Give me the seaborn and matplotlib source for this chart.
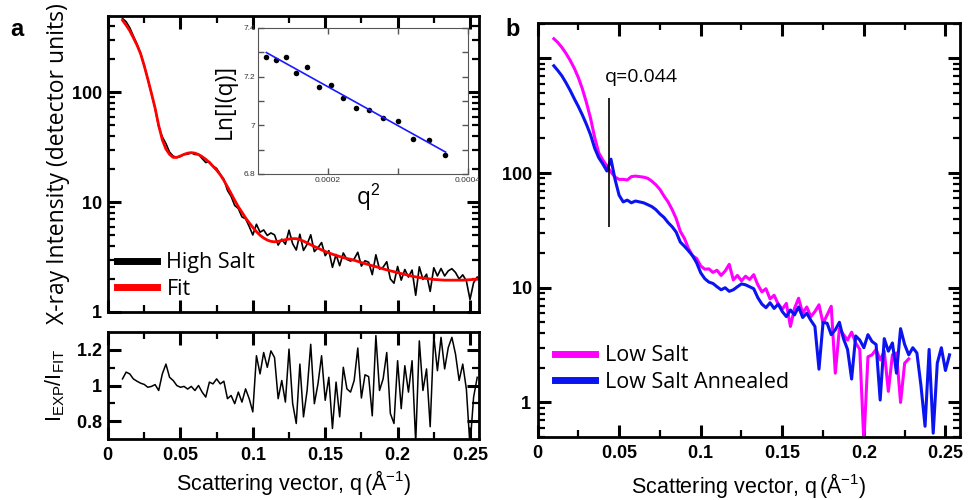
import matplotlib
matplotlib.use('Agg')
import matplotlib.pyplot as plt
import matplotlib.ticker as mticker
import seaborn as sns
import numpy as np

plt.rcParams['font.family'] = ['Liberation Sans', 'DejaVu Sans']
plt.rcParams['mathtext.fontset'] = 'custom'
plt.rcParams['mathtext.rm'] = 'Liberation Sans'
plt.rcParams['mathtext.it'] = 'Liberation Sans'
plt.rcParams['mathtext.bf'] = 'Liberation Sans:bold'

# ---- panel a : high salt scattering curve, fit and residual (q in 1/A) ----
q_a = [0.0100, 0.0125, 0.0150, 0.0175, 0.0200, 0.0225, 0.0250, 0.0275, 0.0300, 0.0325,
       0.0350, 0.0375, 0.0400, 0.0425, 0.0450, 0.0475, 0.0500, 0.0525, 0.0550, 0.0575,
       0.0600, 0.0625, 0.0650, 0.0675, 0.0700, 0.0725, 0.0750, 0.0775, 0.0800, 0.0825,
       0.0850, 0.0875, 0.0900, 0.0925, 0.0950, 0.0975, 0.1000, 0.1025, 0.1050, 0.1075,
       0.1100, 0.1125, 0.1150, 0.1175, 0.1200, 0.1225, 0.1250, 0.1275, 0.1300, 0.1325,
       0.1350, 0.1375, 0.1400, 0.1425, 0.1450, 0.1475, 0.1500, 0.1525, 0.1550, 0.1575,
       0.1600, 0.1625, 0.1650, 0.1675, 0.1700, 0.1725, 0.1750, 0.1775, 0.1800, 0.1825,
       0.1850, 0.1875, 0.1900, 0.1925, 0.1950, 0.1975, 0.2000, 0.2025, 0.2050, 0.2075,
       0.2100, 0.2125, 0.2150, 0.2175, 0.2200, 0.2225, 0.2250, 0.2275, 0.2300, 0.2325,
       0.2350, 0.2375, 0.2400, 0.2425, 0.2450, 0.2475, 0.2500, 0.2525, 0.2550]

high_salt = [472, 441, 389, 327, 276, 228, 176, 131, 97.5, 72.4,
             48.6, 39.4, 34.2, 28.6, 26.3, 25.6, 26.1, 27.2, 27.4, 28.2,
             27.2, 27.2, 25.0, 23.0, 23.4, 21.4, 20.3, 18.0, 16.2, 12.8,
             11.3, 9.34, 8.76, 7.35, 7.06, 6.02, 5.03, 6.30, 5.33, 5.59,
             4.98, 5.25, 5.04, 4.07, 4.61, 4.14, 5.56, 4.19, 3.67, 5.11,
             3.64, 4.14, 5.05, 3.55, 3.85, 4.29, 3.26, 3.62, 2.55, 3.34,
             2.64, 3.45, 3.01, 2.91, 3.04, 3.50, 2.62, 2.93, 2.84, 2.19,
             3.32, 2.46, 2.56, 2.87, 2.00, 1.83, 2.60, 1.95, 2.44, 2.08,
             2.41, 1.42, 2.58, 1.98, 2.21, 1.54, 2.53, 2.13, 2.49, 2.13,
             2.37, 2.48, 2.29, 2.00, 2.18, 1.92, 1.30, 1.85, 2.08]

fit_a = [455, 410, 365, 315, 270, 225, 175, 132, 98, 72,
         50, 37, 30.5, 27.3, 25.6, 25.6, 26.4, 27.3, 28.0, 28.3,
         28.0, 27.2, 26.0, 24.6, 23.0, 21.2, 19.6, 17.8, 15.8, 13.8,
         12.0, 10.4, 9.1, 8.1, 7.2, 6.5, 5.9, 5.4, 5.0, 4.72,
         4.52, 4.40, 4.36, 4.40, 4.48, 4.56, 4.62, 4.66, 4.66, 4.56,
         4.42, 4.26, 4.10, 3.95, 3.82, 3.68, 3.56, 3.46, 3.36, 3.28,
         3.20, 3.13, 3.07, 3.02, 2.96, 2.89, 2.82, 2.76, 2.70, 2.64,
         2.59, 2.53, 2.47, 2.42, 2.37, 2.33, 2.28, 2.24, 2.20, 2.16,
         2.12, 2.09, 2.06, 2.04, 2.02, 2.00, 1.98, 1.97, 1.96, 1.95,
         1.95, 1.95, 1.95, 1.95, 1.95, 1.96, 1.97, 1.98, 1.99]

ratio_a = [1.037, 1.075, 1.065, 1.037, 1.024, 1.013, 1.006, 0.990, 0.995, 1.005,
           0.972, 1.065, 1.120, 1.046, 1.028, 1.000, 0.990, 0.995, 0.980, 0.995,
           0.972, 1.000, 0.963, 0.935, 1.019, 1.009, 1.037, 1.009, 1.024, 0.926,
           0.944, 0.898, 0.963, 0.907, 0.981, 0.926, 0.852, 1.167, 1.065, 1.185,
           1.102, 1.194, 1.157, 0.926, 1.028, 0.907, 1.204, 0.900, 0.787, 1.120,
           0.824, 0.972, 1.231, 0.898, 1.009, 1.167, 0.917, 1.046, 0.759, 1.019,
           0.824, 1.102, 0.981, 0.963, 1.028, 1.210, 0.930, 1.060, 1.050, 0.830,
           1.280, 0.972, 1.037, 1.185, 0.843, 0.787, 1.139, 0.870, 1.111, 0.963,
           1.139, 0.680, 1.250, 0.972, 1.093, 0.769, 1.278, 1.083, 1.270, 1.093,
           1.213, 1.270, 1.176, 1.028, 1.120, 0.980, 0.660, 0.935, 1.046]

# inset: Guinier plot
q2_pts = [0.000112, 0.000126, 0.000140, 0.000155, 0.000170, 0.000187, 0.000204, 0.000222,
          0.000240, 0.000259, 0.000279, 0.000300, 0.000322, 0.000344, 0.000367]
ln_pts = [7.281, 7.270, 7.281, 7.215, 7.241, 7.158, 7.164, 7.112,
          7.073, 7.064, 7.031, 7.019, 6.944, 6.941, 6.878]
q2_line = [0.000112, 0.000368]
ln_line = [7.299, 6.890]

# ---- panel b : low salt, before / after annealing ----
q_b = q_a[:98]
low_salt = [1480, 1370, 1240, 1100, 960, 820, 680, 540, 410, 300,
            205, 150, 130, 115, 102, 92, 88, 88, 87, 93,
            94, 93, 92, 90, 85, 79, 72, 63, 56, 48,
            40, 31, 27, 22, 19, 18, 15.5, 14.5, 14.6, 13.6,
            14.2, 12.8, 14.0, 16.0, 11.7, 12.8, 11.5, 12.6, 11.8, 13.0,
            10.6, 9.2, 9.8, 8.0, 8.6, 7.2, 6.5, 7.3, 4.6, 6.6,
            8.1, 6.0, 6.8, 5.6, 6.2, 7.1, 4.9, 5.8, 6.9, 1.8,
            4.4, 3.9, 3.5, 4.1, 3.3, 2.9, 0.45, 2.5, 2.6, 2.9,
            2.35, 2.8, 1.25, 2.6, 2.7, 1.0, 2.2, 2.4]
low_salt_annealed = [860, 780, 700, 610, 525, 445, 380, 320, 265, 215,
                     165, 136, 120, 104, 132, 88, 64, 56, 58, 55,
                     57, 56, 55, 53, 51, 48, 44, 41, 37, 34,
                     30.5, 25, 23, 21, 19, 16.5, 13.5, 12.0, 11.2, 10.9,
                     10.2, 9.6, 10.0, 9.3, 9.6, 10.2, 10.8, 10.6, 10.2, 9.8,
                     8.2, 7.2, 6.7, 7.4, 6.6, 7.2, 6.2, 5.6, 6.4, 5.8,
                     6.8, 5.5, 6.0, 5.2, 4.6, 1.95, 5.0, 4.9, 3.9, 4.3,
                     5.0, 3.6, 2.9, 1.6, 3.8, 3.5, 3.0, 3.9, 3.4, 3.2,
                     1.05, 3.6, 2.8, 3.3, 1.8, 4.4, 3.2, 2.6, 3.0, 2.7,
                     1.4, 0.62, 2.9, 0.54, 2.2, 3.0, 1.9, 2.6]
q_mark = 0.044
mark_lo, mark_hi = 34, 450


def bold_fmt(v, pos):
    return r'$\mathbf{%s}$' % ('%g' % v)


def style_axes(ax):
    for s in ax.spines.values():
        s.set_linewidth(2.0)
        s.set_color('black')
    ax.tick_params(which='major', direction='in', length=9, width=2.2, color='black',
                   top=True, right=True, bottom=True, left=True, labelsize=13, pad=4)
    ax.tick_params(which='minor', direction='in', length=5, width=1.6, color='black',
                   top=True, right=True, bottom=True, left=True)
    ax.tick_params(axis='x', which='major', pad=6)


def log_ticks(ax):
    ax.yaxis.set_major_locator(mticker.LogLocator(base=10, numticks=10))
    ax.yaxis.set_minor_locator(mticker.LogLocator(base=10, subs=np.arange(2, 10), numticks=20))
    ax.yaxis.set_minor_formatter(mticker.NullFormatter())


fig = plt.figure(figsize=(9.68, 5.0), dpi=100)
ax_a = fig.add_axes([0.1116, 0.376, 0.3832, 0.592])
ax_r = fig.add_axes([0.1116, 0.122, 0.3832, 0.214])
ax_in = fig.add_axes([0.2665, 0.652, 0.217, 0.292])
ax_b = fig.add_axes([0.5553, 0.126, 0.4364, 0.828])

# main curve a
sns.lineplot(x=q_a, y=high_salt, ax=ax_a, color='black', lw=1.2, label='High Salt',
             sort=False, estimator=None)
sns.lineplot(x=q_a, y=fit_a, ax=ax_a, color='#ff0000', lw=2.0, label='Fit',
             sort=False, estimator=None)
ax_a.set_yscale('log')
ax_a.set_xlim(0, 0.2562)
ax_a.set_ylim(1, 497)
log_ticks(ax_a)
ax_a.yaxis.set_major_formatter(mticker.FuncFormatter(bold_fmt))
ax_a.xaxis.set_major_locator(mticker.MultipleLocator(0.05))
ax_a.xaxis.set_minor_locator(mticker.MultipleLocator(0.025))
ax_a.xaxis.set_major_formatter(mticker.NullFormatter())
ax_a.set_xlabel('')
ax_a.set_ylabel('X-ray Intensity (detector units)', family='Open Sans', fontsize=16.5, va='center')
ax_a.yaxis.set_label_coords(-0.135, 0.5)
leg = ax_a.legend(loc='center left', bbox_to_anchor=(0.024, 0.122), frameon=False,
                  prop={'family': 'Open Sans', 'size': 15.5}, handlelength=1.85,
                  handletextpad=0.45, labelspacing=0.25, borderpad=0, borderaxespad=0)
for h in leg.get_lines():
    h.set_linewidth(5)

# residual
sns.lineplot(x=q_a, y=ratio_a, ax=ax_r, color='black', lw=1.1, sort=False, estimator=None)
ax_r.set_xlim(0, 0.2562)
ax_r.set_ylim(0.7, 1.3)
ax_r.xaxis.set_major_locator(mticker.MultipleLocator(0.05))
ax_r.xaxis.set_minor_locator(mticker.MultipleLocator(0.025))
ax_r.yaxis.set_major_locator(mticker.FixedLocator([0.8, 1.0, 1.2]))
ax_r.yaxis.set_minor_locator(mticker.FixedLocator([0.9, 1.1]))
ax_r.xaxis.set_major_formatter(mticker.FuncFormatter(bold_fmt))
ax_r.yaxis.set_major_formatter(mticker.FuncFormatter(bold_fmt))
ax_r.set_ylabel(r'I$_{\mathrm{EXP}}$/I$_{\mathrm{FIT}}$', fontsize=15.5, va='center')
ax_r.yaxis.set_label_coords(-0.143, 0.5)
ax_r.set_xlabel(r'Scattering vector, q$\,$(Å$^{-1}$)', fontsize=15.5, va='center')
ax_r.xaxis.set_label_coords(0.5, -0.41)

# panel b
sns.lineplot(x=q_b[:len(low_salt)], y=low_salt, ax=ax_b, color='#ff00ff', lw=2.2,
             label='Low Salt', sort=False, estimator=None)
sns.lineplot(x=q_b, y=low_salt_annealed, ax=ax_b, color='#0a14f0', lw=2.2,
             label='Low Salt Annealed', sort=False, estimator=None)
ax_b.vlines(q_mark, mark_lo, mark_hi, color='black', lw=1.2)
ax_b.text(0.0634, 690, 'q=%.3f' % q_mark, family='Open Sans', fontsize=14,
          ha='center', va='center')
ax_b.set_yscale('log')
ax_b.set_xlim(0, 0.2589)
ax_b.set_ylim(0.5, 2030)
log_ticks(ax_b)
ax_b.yaxis.set_major_formatter(mticker.FuncFormatter(lambda v, p: bold_fmt(v, p) if v <= 100 else ''))
ax_b.xaxis.set_major_locator(mticker.MultipleLocator(0.05))
ax_b.xaxis.set_minor_locator(mticker.MultipleLocator(0.025))
ax_b.xaxis.set_major_formatter(mticker.FuncFormatter(bold_fmt))
ax_b.set_xlabel(r'Scattering vector, q$\,$(Å$^{-1}$)', fontsize=15.5, va='center')
ax_b.xaxis.set_label_coords(0.5, -0.116)
ax_b.set_ylabel('')
leg_b = ax_b.legend(loc='center left', bbox_to_anchor=(0.041, 0.164), frameon=False,
                    prop={'family': 'Open Sans', 'size': 15.5}, handlelength=1.85,
                    handletextpad=0.5, labelspacing=0.25, borderpad=0, borderaxespad=0)
for h in leg_b.get_lines():
    h.set_linewidth(5)

for ax in (ax_a, ax_r, ax_b):
    style_axes(ax)

# inset (drawn above panel a)
sns.scatterplot(x=q2_pts, y=ln_pts, ax=ax_in, color='black', s=16, edgecolor='black', linewidth=0)
sns.lineplot(x=q2_line, y=ln_line, ax=ax_in, color='#1a1aff', lw=1.2, sort=False, estimator=None)
ax_in.set_xlim(0.0001, 0.0004)
ax_in.set_ylim(6.8, 7.4)
for s in ax_in.spines.values():
    s.set_linewidth(0.8)
    s.set_color('#555555')
ax_in.tick_params(which='both', direction='in', top=True, right=True, color='#555555',
                  labelcolor='#333333', labelsize=6, pad=2, length=4, width=1.0)
ax_in.xaxis.set_major_locator(mticker.FixedLocator([0.0002, 0.0004]))
ax_in.xaxis.set_minor_locator(mticker.FixedLocator([0.0003]))
ax_in.yaxis.set_major_locator(mticker.MultipleLocator(0.2))
ax_in.yaxis.set_minor_locator(mticker.MultipleLocator(0.1))
ax_in.xaxis.set_major_formatter(mticker.FuncFormatter(lambda v, p: '%g' % v))
ax_in.yaxis.set_major_formatter(mticker.FuncFormatter(lambda v, p: '%g' % v))
ax_in.set_ylabel('Ln[I(q)]', family='Open Sans', fontsize=16.5, va='center')
ax_in.yaxis.set_label_coords(-0.157, 0.5)
ax_in.set_xlabel(r'q$^{2}$', family='Open Sans', fontsize=16.5, va='center')
ax_in.xaxis.set_label_coords(0.524, -0.158)

fig.text(17 / 968, 1 - 30 / 500, 'a', fontsize=17, fontweight='bold', ha='center', va='center')
fig.text(513 / 968, 1 - 30 / 500, 'b', fontsize=17, fontweight='bold', ha='center', va='center')

fig.savefig('out.png', dpi=100)
